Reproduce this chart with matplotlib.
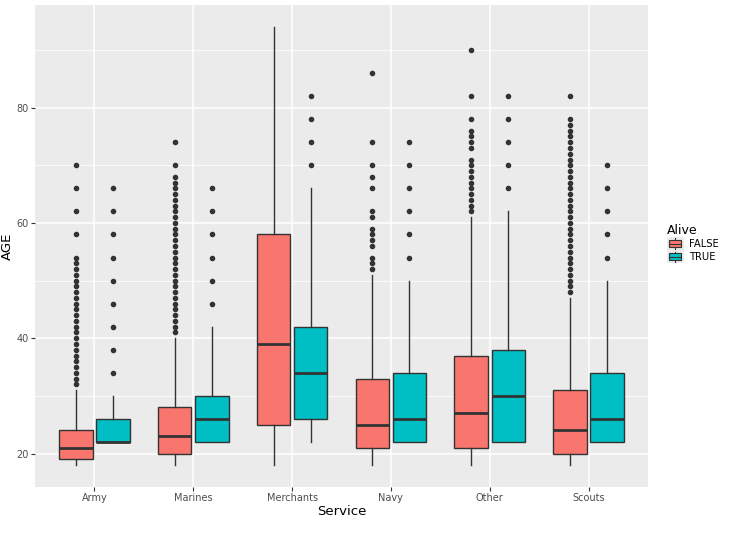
import matplotlib
matplotlib.use("Agg")
import matplotlib.pyplot as plt
from matplotlib.patches import Rectangle, Patch
from matplotlib.lines import Line2D
from matplotlib.legend_handler import HandlerBase

# =========================
# Data
# =========================
services = ["Army", "Marines", "Merchants", "Navy", "Other", "Scouts"]
groups = ["FALSE", "TRUE"]

# FALSE group
false_low = [18, 18, 18, 18, 18, 18]
false_q1 = [19, 20, 25, 21, 21, 20]
false_med = [21, 23, 39, 25, 27, 24]
false_q3 = [24, 28, 58, 33, 37, 31]
false_high = [31, 40, 94, 51, 61, 47]
false_out = [
    [32, 33, 34, 35, 36, 37, 38, 39, 40, 41, 42, 43, 44, 45, 46, 47, 48, 49, 50,
     51, 52, 53, 54, 58, 62, 66, 70],
    [41, 42, 43, 44, 45, 46, 47, 48, 49, 50, 51, 52, 53, 54, 55, 56, 57, 58, 59,
     60, 61, 62, 63, 64, 65, 66, 67, 68, 70, 74],
    [],
    [52, 53, 54, 56, 57, 58, 59, 61, 62, 66, 68, 70, 74, 86],
    [62, 63, 64, 65, 66, 67, 68, 69, 70, 71, 73, 74, 75, 76, 78, 82, 90],
    [48, 49, 50, 51, 52, 53, 54, 55, 56, 57, 58, 59, 60, 61, 62, 63, 64, 65, 66,
     67, 68, 69, 70, 71, 72, 73, 74, 75, 76, 77, 78, 82],
]

# TRUE group
true_low = [22, 22, 22, 22, 22, 22]
true_q1 = [22, 22, 26, 22, 22, 22]
true_med = [22, 26, 34, 26, 30, 26]
true_q3 = [26, 30, 42, 34, 38, 34]
true_high = [30, 42, 66, 50, 62, 50]
true_out = [
    [34, 38, 42, 46, 50, 54, 58, 62, 66],
    [46, 50, 54, 58, 62, 66],
    [70, 74, 78, 82],
    [54, 58, 62, 66, 70, 74],
    [66, 70, 74, 78, 82],
    [54, 58, 62, 66, 70],
]

colors = {"FALSE": "#F8766D", "TRUE": "#00BFC4"}
edge = "#333333"


def make_stats(low, q1, med, q3, high, out):
    stats = []
    for i in range(len(low)):
        stats.append({"whislo": low[i], "q1": q1[i], "med": med[i],
                      "q3": q3[i], "whishi": high[i], "fliers": out[i]})
    return stats


# =========================
# Figure
# =========================
fig = plt.figure(figsize=(7.3, 5.4), dpi=100)
ax = fig.add_axes([35 / 730, 1 - 487 / 540, 613 / 730, 482 / 540])
ax.set_facecolor("#EBEBEB")

positions = list(range(1, len(services) + 1))
offset = 0.1875
width = 0.34

for grp, stats, sign in [
    ("FALSE", make_stats(false_low, false_q1, false_med, false_q3, false_high, false_out), -1),
    ("TRUE", make_stats(true_low, true_q1, true_med, true_q3, true_high, true_out), 1),
]:
    ax.bxp(stats,
           positions=[p + sign * offset for p in positions],
           widths=width, patch_artist=True, showcaps=False,
           boxprops=dict(facecolor=colors[grp], edgecolor=edge, linewidth=1.0),
           medianprops=dict(color=edge, linewidth=2.0),
           whiskerprops=dict(color=edge, linewidth=1.0),
           flierprops=dict(marker="o", markersize=3.0, markerfacecolor=edge,
                           markeredgecolor=edge, linestyle="none"),
           zorder=3)

# axes limits and grid
ax.set_xlim(0.4, 6.6)
ax.set_ylim(14.2, 97.8)
ax.set_xticks(positions)
ax.set_xticklabels(services)
ax.set_yticks([20, 40, 60, 80])
ax.set_yticks([30, 50, 70, 90], minor=True)
ax.grid(which="major", color="white", linewidth=1.1, zorder=0)
ax.grid(which="minor", axis="y", color="white", linewidth=0.55, zorder=0)
ax.set_axisbelow(True)
for s in ax.spines.values():
    s.set_visible(False)
ax.tick_params(which="major", length=3, color="#333333", labelsize=7,
               labelcolor="#4D4D4D", pad=1.5)
ax.tick_params(which="minor", length=0)

ax.set_xlabel("Service", fontsize=9.5, labelpad=1)
ax.set_ylabel("AGE", fontsize=9.5, labelpad=2)


# =========================
# Legend with boxplot keys
# =========================
class BoxHandler(HandlerBase):
    def create_artists(self, legend, orig_handle, xdescent, ydescent,
                       width, height, fontsize, trans):
        x0, y0 = -xdescent, -ydescent
        bg = Rectangle((x0, y0), width, height,
                       facecolor="#EBEBEB", edgecolor="none", transform=trans)
        cx = x0 + width / 2
        whisk = Line2D([cx, cx], [y0 + 1, y0 + height - 1],
                       color=edge, linewidth=0.8, transform=trans)
        box = Rectangle((x0 + 1.5, y0 + height * 0.25), width - 3, height * 0.5,
                        facecolor=orig_handle.get_facecolor(), edgecolor=edge,
                        linewidth=0.8, transform=trans)
        med = Line2D([x0 + 1.5, x0 + width - 1.5],
                     [y0 + height / 2, y0 + height / 2],
                     color=edge, linewidth=0.8, transform=trans)
        return [bg, whisk, box, med]


handles = [Patch(facecolor=colors[g]) for g in groups]
leg = fig.legend(handles, groups, handler_map={Patch: BoxHandler()},
                 loc="upper left", bbox_to_anchor=(660 / 730, 1 - 217 / 540),
                 frameon=False, title="Alive", title_fontsize=9,
                 fontsize=7.2, handlelength=1.65, handleheight=1.65,
                 handletextpad=0.6, labelspacing=0.0, borderpad=0.2)
leg._legend_box.align = "left"

fig.savefig("out.png", dpi=100, facecolor="white")
